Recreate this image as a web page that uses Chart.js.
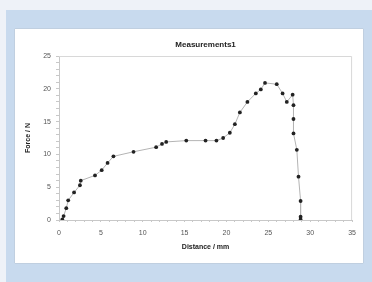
<!DOCTYPE html>
<html>
<head>
<meta charset="utf-8">
<script src="https://cdn.jsdelivr.net/npm/chart.js@4"></script>
<style>
  html, body { margin: 0; padding: 0; }
  body { width: 372px; height: 282px; background: #eef2f8; position: relative; overflow: hidden; }
  .panel { position: absolute; left: 6px; top: 10px; width: 366px; height: 272px; background: #c8daee; }
  .box { position: absolute; left: 15px; top: 29px; width: 348px; height: 234px; background: #fff; box-shadow: 0 0 1px #999; }
  .box canvas { position: absolute; left: 0; top: 0; }
</style>
</head>
<body>
<div class="panel"></div>
<div class="box"><canvas id="chart" width="348" height="234"></canvas></div>
<script>
// Measurements1: force vs distance
const chartTitle = 'Measurements1';
const distanceMm = [0.4, 0.55, 0.87, 1.1, 1.8, 2.5, 2.6, 4.3, 5.1, 5.8, 6.5, 8.9, 11.6, 12.3, 12.8,
  15.2, 17.5, 18.8, 19.6, 20.4, 21.0, 21.6, 22.5, 23.5, 24.1, 24.6, 26.0, 26.7, 27.2, 27.9,
  28.0, 28.0, 28.0, 28.4, 28.6, 28.85, 28.85, 28.85];
const forceN = [0.1, 0.6, 1.8, 3.0, 4.2, 5.3, 6.0, 6.8, 7.6, 8.7, 9.7, 10.4, 11.1, 11.6, 11.9,
  12.1, 12.1, 12.1, 12.5, 13.3, 14.6, 16.4, 18.0, 19.3, 19.9, 20.9, 20.7, 19.3, 18.0, 19.1,
  17.5, 15.4, 13.2, 10.7, 6.6, 2.9, 0.5, 0.1];

const FONT = 'Arial, "Liberation Sans", sans-serif';
const axisFont = { family: FONT, size: 7 };
const boldFont = { family: FONT, size: 7, weight: 'bold' };

// light frame on top/right of the plot + title centred over the plot area
const frame = {
  id: 'frame',
  beforeDatasetsDraw(chart) {
    const a = chart.chartArea, c = chart.ctx;
    c.save();
    c.strokeStyle = '#d8d8d8';
    c.lineWidth = 1;
    c.beginPath();
    c.moveTo(a.left, a.top + 0.5);
    c.lineTo(a.right - 0.5, a.top + 0.5);
    c.lineTo(a.right - 0.5, a.bottom);
    c.stroke();
    c.fillStyle = '#222';
    c.font = 'bold 8px ' + FONT;
    c.textAlign = 'center';
    c.textBaseline = 'middle';
    c.fillText(chartTitle, (a.left + a.right) / 2, 16);
    c.restore();
  }
};

new Chart(document.getElementById('chart'), {
  type: 'scatter',
  data: {
    datasets: [{
      data: distanceMm.map((x, i) => ({ x, y: forceN[i] })),
      showLine: true,
      borderColor: '#b4b4b4',
      borderWidth: 1,
      pointRadius: 1.9,
      pointBackgroundColor: '#222',
      pointBorderColor: '#222',
      pointBorderWidth: 0
    }]
  },
  options: {
    responsive: false,
    animation: false,
    layout: { padding: { left: 9, right: 2, top: 27, bottom: 12 } },
    plugins: {
      legend: { display: false },
      tooltip: { enabled: false },
      title: { display: false }
    },
    scales: {
      x: {
        type: 'linear',
        min: 0, max: 35,
        afterFit: s => { s.height = 31; },
        border: { color: '#c8c8c8', dash: [2, 3] },
        grid: { drawOnChartArea: false, tickLength: 2, color: '#c8c8c8' },
        ticks: {
          stepSize: 1,
          autoSkip: false,
          maxRotation: 0,
          color: '#555',
          font: axisFont,
          padding: 7,
          callback: v => (v % 5 === 0 ? v : '')
        },
        title: { display: true, text: 'Distance / mm', color: '#222', font: boldFont, padding: { top: 2, bottom: 0 } }
      },
      y: {
        min: 0, max: 25,
        afterFit: s => { s.width = 35; },
        border: { color: '#c8c8c8' },
        grid: { drawOnChartArea: false, tickLength: 3, color: '#c8c8c8' },
        ticks: {
          stepSize: 1,
          autoSkip: false,
          color: '#555',
          font: axisFont,
          padding: 5,
          callback: v => (v % 5 === 0 ? v : '')
        },
        title: { display: true, text: 'Force / N', color: '#222', font: boldFont, padding: { top: 0, bottom: 2 } }
      }
    }
  },
  plugins: [frame]
});
</script>
</body>
</html>
